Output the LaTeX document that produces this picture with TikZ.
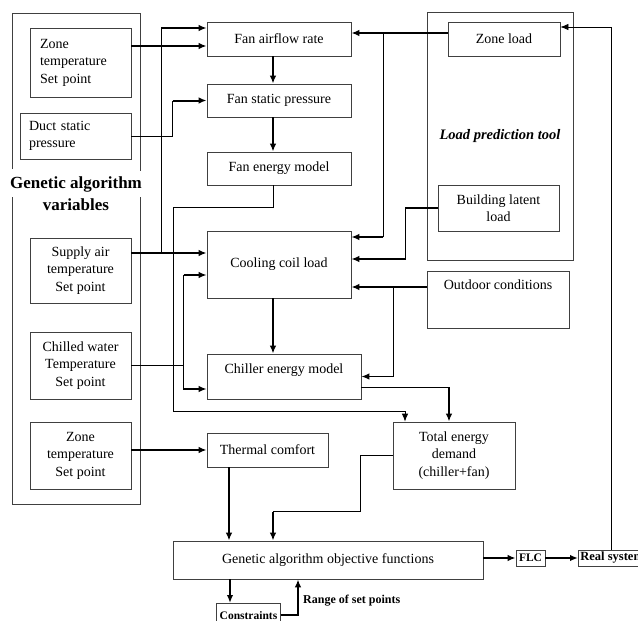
\documentclass[tikz,border=0pt]{standalone}
\usepackage{fontspec}
\setmainfont{Liberation Serif}
\usetikzlibrary{arrows.meta,positioning,calc}

\begin{document}
\begin{tikzpicture}[x=1pt,y=-1pt,
  grp/.style={draw=black!75,line width=0.8pt},
  box/.style={draw=black!75,line width=0.8pt,inner sep=2pt,align=center,
    font=\fontsize{14}{17.5}\selectfont},
  smallbox/.style={draw=black!75,line width=0.8pt,inner sep=2pt,
    font=\fontsize{11.5}{13}\selectfont\bfseries},
  thn/.style={line width=0.8pt},
  med/.style={line width=1.3pt},
  thk/.style={line width=2pt},
  arr/.style={-{Latex[length=8pt,width=6.5pt]}}]
  \useasboundingbox (0,0) rectangle (638,621);
  \draw[grp] (12,169) -- (12,13) -- (140,13) -- (140,171);
  \draw[grp] (12,197) -- (12,504) -- (140,504) -- (140,197);
  \node[font=\fontsize{17}{22}\selectfont\bfseries,align=center,inner sep=0pt]
    (gavar) at (76,194) {Genetic algorithm\\variables};
  \node[box,minimum width=101pt,minimum height=69pt,text width=81pt,
    align=left,inner xsep=10pt] (zsp1) at (80.5,62.5) {Zone\\temperature\\Set point};
  \node[box,minimum width=111pt,minimum height=46pt,text width=93pt,
    align=left,inner xsep=9pt] (duct) at (75.5,136) {Duct static\\pressure};
  \node[box,minimum width=101pt,minimum height=65pt] (supply) at (80.5,270.5)
    {Supply air\\temperature\\Set point};
  \node[box,minimum width=101pt,minimum height=67pt] (chw) at (80.5,365.5)
    {Chilled water\\Temperature\\Set point};
  \node[box,minimum width=101pt,minimum height=67pt] (zsp2) at (80.5,455.5)
    {Zone\\temperature\\Set point};
  \node[grp,minimum width=146pt,minimum height=248pt,
    font=\fontsize{14.5}{17}\selectfont\bfseries\itshape] (lpt) at (500,136)
    {Load prediction tool};
  \node[box,minimum width=112pt,minimum height=34pt] (zoneload) at (504,39) {Zone load};
  \node[box,minimum width=121pt,minimum height=46pt] (bll) at (498.5,208)
    {Building latent\\load};
  \node[box,minimum width=142pt,minimum height=57pt,text height=10pt,
    text depth=31pt] (outdoor) at (498,299.5) {Outdoor conditions};
  \node[box,minimum width=144pt,minimum height=34pt] (fanflow) at (279,39)
    {Fan airflow rate};
  \node[box,minimum width=144pt,minimum height=33pt] (fanpress) at (279,100.5)
    {Fan static pressure};
  \node[box,minimum width=144pt,minimum height=33pt] (fanenergy) at (279,168.5)
    {Fan energy model};
  \node[box,minimum width=144pt,minimum height=67pt] (coil) at (279,264.5)
    {Cooling coil load};
  \node[box,minimum width=154pt,minimum height=45pt,text height=10pt,
    text depth=16pt] (chiller) at (284,376.5) {Chiller energy model};
  \node[box,minimum width=121pt,minimum height=34pt] (thermal) at (267.5,450)
    {Thermal comfort};
  \node[box,minimum width=122pt,minimum height=67pt] (ted) at (454,455.5)
    {Total energy\\demand\\(chiller+fan)};
  \node[box,minimum width=310pt,minimum height=38pt] (gaobj) at (328,560)
    {Genetic algorithm objective functions};
  \node[smallbox,minimum width=29pt,minimum height=16pt] (flc) at (530.5,558) {FLC};
  \node[smallbox,anchor=west,minimum height=16pt,
    font=\fontsize{12.5}{13}\selectfont\bfseries] (realsys) at (578,558) {Real system};
  \node[smallbox,anchor=north,minimum width=64pt,minimum height=24pt] (cons)
    at (248.5,603) {Constraints};
  \node[font=\fontsize{12}{14}\selectfont\bfseries,anchor=west,inner sep=0pt]
    (range) at (303,601) {Range of set points};
  \coordinate (ffa) at ([yshift=11pt]fanflow.west);
  \coordinate (ffb) at ([yshift=-7pt]fanflow.west);
  \coordinate (ffe) at ([yshift=6pt]fanflow.east);
  \coordinate (zle) at ([yshift=12pt]zoneload.east);
  \coordinate (cw1) at ([yshift=11.5pt]coil.west);
  \coordinate (cw2) at ([yshift=-10.5pt]coil.west);
  \coordinate (ce1) at ([yshift=27.5pt]coil.east);
  \coordinate (ce2) at ([yshift=5.5pt]coil.east);
  \coordinate (ce3) at ([yshift=-22.5pt]coil.east);
  \coordinate (chw1) at ([yshift=-12.5pt]chiller.west);
  \coordinate (che) at ([yshift=-10.5pt]chiller.east);
  \coordinate (chj) at ([xshift=-23pt]cw2);
  \coordinate (tedA) at ([xshift=-49pt]ted.north);
  \coordinate (tedB) at ([xshift=-5pt]ted.north);
  \coordinate (gaA) at ([xshift=-99pt]gaobj.north);
  \coordinate (gaB) at ([xshift=-55pt]gaobj.north);
  \coordinate (gaC) at ([xshift=-98pt]gaobj.south);
  \coordinate (gaD) at ([xshift=-30pt]gaobj.south);
  \draw[thk,arr] (zsp1.east |- ffb) -- (ffb);
  \draw[thk,arr] (supply.east |- cw1) -- (cw1);
  \draw[med,arr] ([xshift=-45pt]cw1) |- (ffa);
  \draw[thn] (duct.east) -| ([xshift=-34pt]fanpress.west);
  \draw[thk,arr] ([xshift=-34pt]fanpress.west) -- (fanpress.west);
  \draw[thk,arr] ([xshift=-6pt]fanflow.south) -- ([xshift=-6pt]fanpress.north);
  \draw[thk,arr] ([xshift=-6pt]fanpress.south) -- ([xshift=-6pt]fanenergy.north);
  \draw[thn,arr] ([xshift=-6pt]fanenergy.south) -- ++(0,22) -| (173,411) -| (tedA);
  \draw[thk,arr] ([xshift=-6pt]coil.south) -- ([xshift=-11pt]chiller.north);
  \draw[thk,arr] (zoneload.west |- ffe) -- (ffe);
  \draw[thn] ([xshift=32pt]ffe) -- ([xshift=32pt]ce1);
  \draw[med,arr] ([xshift=32pt]ce1) -- (ce1);
  \draw[med,arr] (bll.west) -| ([xshift=54pt]ce2) -- (ce2);
  \draw[thk,arr] (outdoor.west |- ce3) -- (ce3);
  \draw[med,arr] ([xshift=42pt]ce3) |- (chiller.east);
  \draw[thn] (chw.east) -- (chw.east -| chj);
  \draw[med,arr] (chj) -- (cw2);
  \draw[med,arr] (chj) |- (chw1);
  \draw[thn] (che) -- (che -| tedB);
  \draw[thk,arr] (che -| tedB) -- (tedB);
  \draw[thk,arr] (zsp2.east |- thermal.west) -- (thermal.west);
  \draw[thk,arr] (thermal.south -| gaA) -- (gaA);
  \draw[thn] (ted.west) -- ++(-32,0) |- ([yshift=29pt]gaB);
  \draw[thk,arr] ([yshift=29pt]gaB) -- (gaB);
  \draw[thk,arr] (gaobj.east |- flc.west) -- (flc.west);
  \draw[thk,arr] (flc.east) -- (realsys.west);
  \draw[thn,arr] ([xshift=33pt]realsys.north west) |- (zle);
  \draw[thk,arr] (gaC) -- (gaC |- cons.north);
  \draw[thk,arr] (cons.east) -| (gaD);
\end{tikzpicture}
\end{document}
